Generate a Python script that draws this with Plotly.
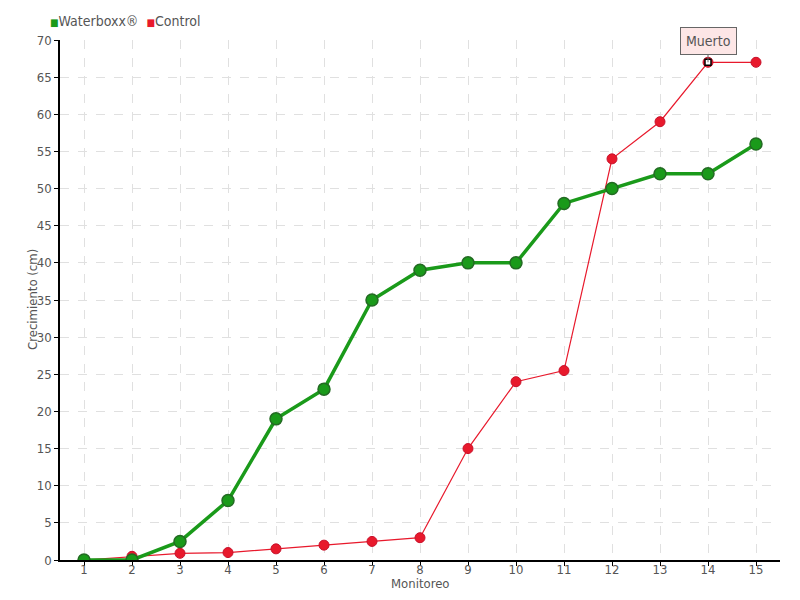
import plotly.graph_objects as go

monitoreo = list(range(1, 16))
waterboxx = [0, 0, 2.5, 8, 19, 23, 35, 39, 40, 40, 48, 50, 52, 52, 56]
control = [0, 0.5, 0.9, 1, 1.5, 2, 2.5, 3, 15, 24, 25.5, 54, 59, 67, 67]
series_names = ["Waterboxx®", "Control"]
note_x = 14
note_text = "Muerto"
x_title = "Monitoreo"
y_title = "Crecimiento (cm)"

FONT = "DejaVu Sans Condensed, Liberation Sans Narrow, sans-serif"
GRAY = "#555555"
GREEN = "#1a9a1a"
RED = "#e8192c"

# page has an 8px body margin: size figure to fit the 800x600 window
W, H = 792, 592
ML, MR, MT, MB = 52, 20, 32, 40
PW, PH = W - ML - MR, H - MT - MB

fig = go.Figure()
fig.add_trace(go.Scatter(x=monitoreo, y=control, mode="lines+markers", name=series_names[1],
                         line=dict(color=RED, width=1.2),
                         marker=dict(color=RED, size=10, line=dict(color="#c8102a", width=1)),
                         showlegend=False, hoverinfo="x+y"))
fig.add_trace(go.Scatter(x=monitoreo, y=waterboxx, mode="lines+markers", name=series_names[0],
                         line=dict(color=GREEN, width=3.5),
                         marker=dict(color=GREEN, size=12, line=dict(color="#236b23", width=1.5)),
                         showlegend=False, hoverinfo="x+y"))
ni = monitoreo.index(note_x)
fig.add_trace(go.Scatter(x=[note_x], y=[control[ni]], mode="markers",
                         marker=dict(symbol="square", color="white", size=6,
                                     line=dict(color="black", width=1.5)),
                         showlegend=False, hoverinfo="skip"))

# legend as text
fig.add_annotation(xref="paper", yref="paper", x=(40 - ML) / PW, y=(PH + MT - 13) / PH,
                   xanchor="left", yanchor="middle", showarrow=False,
                   text=(f"<span style='color:{GREEN};font-size:10px'>■</span>{series_names[0]}  "
                         f"<span style='color:{RED};font-size:10px'>■</span>{series_names[1]}"),
                   font=dict(family=FONT, size=14, color=GRAY))

# axis titles
fig.add_annotation(xref="paper", yref="paper", x=0.5, y=-(575 - MT - PH) / PH,
                   xanchor="center", yanchor="middle", showarrow=False,
                   text=x_title, font=dict(family=FONT, size=13, color=GRAY))
fig.add_annotation(xref="paper", yref="paper", x=-(ML - 24) / PW, y=(PH - (292 - MT)) / PH,
                   xanchor="center", yanchor="middle", showarrow=False, textangle=-90,
                   text=y_title, font=dict(family=FONT, size=13, color=GRAY))

fig.add_annotation(x=note_x, y=control[ni], text=note_text, showarrow=True,
                   ax=0, ay=-21, arrowhead=0, arrowwidth=1, arrowcolor="#666666",
                   bgcolor="#fde6e6", bordercolor="#666666", borderwidth=1,
                   borderpad=5, font=dict(family=FONT, size=14, color=GRAY))

fig.update_layout(
    width=W, height=H,
    paper_bgcolor="white", plot_bgcolor="white",
    margin=dict(l=ML, r=MR, t=MT, b=MB, autoexpand=False),
    font=dict(family=FONT, size=13, color=GRAY),
    showlegend=False,
    xaxis=dict(range=[0.5, 15.5], tickvals=monitoreo, ticktext=[str(v) for v in monitoreo],
               showgrid=True, gridcolor="#e0e0e0", griddash="dash", gridwidth=1,
               showline=True, linecolor="black", linewidth=1.5,
               ticks="outside", ticklen=4, tickcolor="black", ticklabelstandoff=-7,
               tickfont=dict(family=FONT, size=13, color=GRAY),
               zeroline=False, automargin=False),
    yaxis=dict(range=[0, 70], dtick=5,
               showgrid=True, gridcolor="#e0e0e0", griddash="dash", gridwidth=1,
               showline=True, linecolor="black", linewidth=1.5,
               ticks="outside", ticklen=4, tickcolor="black",
               tickfont=dict(family=FONT, size=13, color=GRAY),
               zeroline=False, automargin=False),
)

fig.write_html("out.html")
